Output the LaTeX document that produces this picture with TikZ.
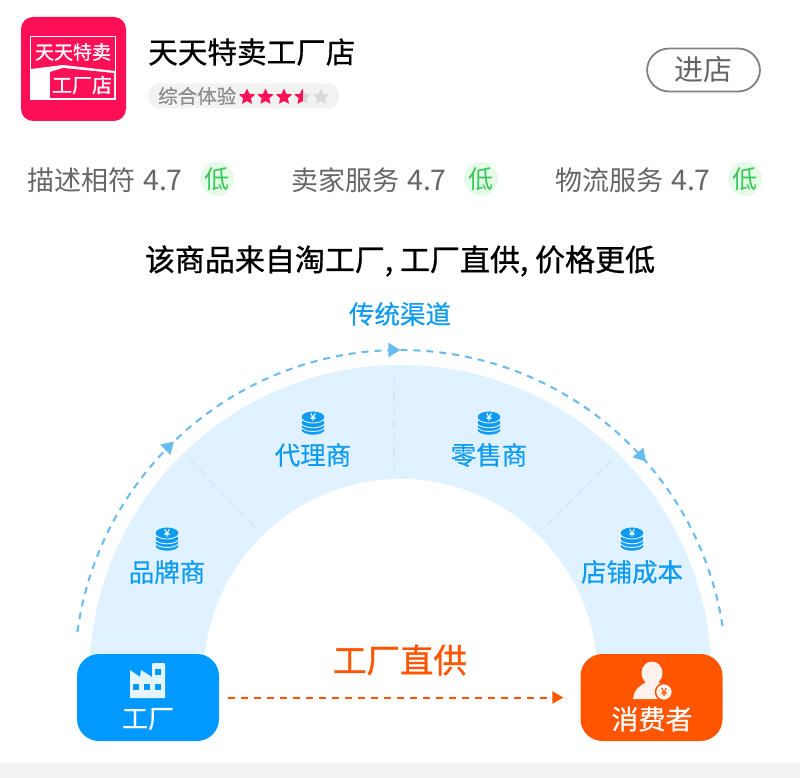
\documentclass[tikz,border=0pt]{standalone}
\usepackage{fontspec}
\setmainfont{Noto Sans CJK SC}
\newfontfamily\medfont{Noto Sans CJK SC}[FakeBold=0.9]
\newfontfamily\semifont{Noto Sans CJK SC}[FakeBold=0.5]
\usepackage{xcolor}
\usetikzlibrary{arrows.meta, positioning, shapes.geometric, decorations.markings, calc}
\definecolor{shopred}{HTML}{FF0F55}
\definecolor{chanblue}{HTML}{0F9BF0}
\definecolor{factblue}{HTML}{0099FF}
\definecolor{archblue}{HTML}{E0F2FF}
\definecolor{arcblue}{HTML}{66BBF0}
\definecolor{dividerblue}{HTML}{CFE9FA}
\definecolor{buyorange}{HTML}{FF5500}
\definecolor{lowgreen}{HTML}{36C95A}
\definecolor{lowfill}{HTML}{E6FAE8}
\newcommand{\scoretext}[1]{#1\hspace{8pt}{\fontsize{28.5}{28.5}\selectfont 4.7}}
\tikzset{
  txt/.style={inner sep=0pt, font=\fontsize{#1}{#1}\selectfont},
  medtxt/.style={inner sep=0pt, font=\fontsize{#1}{#1}\selectfont\medfont},
  semitxt/.style={inner sep=0pt, font=\fontsize{#1}{#1}\selectfont\semifont},
  chan/.style={semitxt=25.5, text=chanblue},
  rate/.style={txt=27, text=black!60, anchor=west},
  lowdot/.style={circle, fill=lowfill, minimum size=34pt, inner sep=0pt,
                 text=lowgreen, font=\fontsize{25}{25}\selectfont},
  endbox/.style={rectangle, rounded corners=22pt, fill=#1,
                 minimum width=142pt, minimum height=87pt, inner sep=0pt},
  endlbl/.style={semitxt=#1, text=white},
  ratestar/.style={star, star points=5, star point ratio=2.1, draw=none,
                   minimum size=17pt, inner sep=0pt, fill=#1},
  flow/.style={line width=2pt, buyorange, dash pattern=on 7pt off 6pt,
               -{Triangle[length=11pt,width=12pt]}},
  coinstack/.pic={
    \foreach \yy in {7,3.3,-0.4}
      \draw[fill=chanblue, draw=archblue, line width=0.9pt]
        (0,\yy) ellipse [x radius=12, y radius=5.2];
    \draw[fill=chanblue, draw=archblue, line width=0.9pt]
      (0,-6) ellipse [x radius=12, y radius=6];
    \node[medtxt=10, text=white] (yuan) at (0,-6) {¥};
  },
}
\begin{document}
\begin{tikzpicture}[x=1pt, y=-1pt]
  \useasboundingbox (0,0) rectangle (800,778);
  \fill[black!5] (0,763) rectangle (800,778);
  %% Shop logo
  \node[rectangle, rounded corners=12pt, fill=shopred, minimum width=105pt,
        minimum height=104pt, inner sep=0pt] (logo) at (73.5,69) {};
  \draw[white, line width=1pt] (30.5,37) rectangle (115.5,100);
  \fill[white] (31,69) -- (63,65) -- (115,71) -- (115,100) -- (31,100) -- cycle;
  \fill[shopred] (50,72) -- (63,68) -- (114,73) -- (114,98) -- (50,98) -- cycle;
  \node[medtxt=19, text=white] (logotop) at (73,52) {天天特卖};
  \node[medtxt=20, text=white] (logobot) at (82,85) {工厂店};
  %% Shop name and rating
  \node[semitxt=29.6, anchor=west] (shop) at (148,52) {天天特卖工厂店};
  \node[rectangle, rounded corners=12pt, fill=black!5, minimum width=191pt,
        minimum height=25pt, inner sep=0pt] (pill) at (243.5,96) {};
  \node[semitxt=19.5, text=black!45, anchor=west] (overall) at (158,96) {综合体验};
  \node[ratestar=shopred] (s1) at (247,97) {};
  \node[ratestar=shopred] (s2) at (265.5,97) {};
  \node[ratestar=shopred] (s3) at (284,97) {};
  \node[ratestar=black!15, path picture={\fill[shopred]
        (path picture bounding box.north west) rectangle (path picture bounding box.south);}]
        (s4) at (302.5,97) {};
  \node[ratestar=black!15] (s5) at (321,97) {};
  \node[rectangle, rounded corners=22pt, draw=black!50, line width=1.8pt, fill=white,
        minimum width=113pt, minimum height=43pt, inner sep=0pt, txt=29, text=black!60]
        (enter) at (703.5,70) {进店};
  %% Score row
  \node[rate] (desc) at (27,180) {\scoretext{描述相符}};
  \node[lowdot] (low1) at (217,179) {低};
  \node[rate] (serv) at (291,180) {\scoretext{卖家服务}};
  \node[lowdot] (low2) at (481,179) {低};
  \node[rate] (ship) at (555,180) {\scoretext{物流服务}};
  \node[lowdot] (low3) at (745,179) {低};
  %% Heading
  \node[medtxt=30] (title) at (400,261) {该商品来自淘工厂, 工厂直供, 价格更低};
  \node[chan] (trad) at (400,314) {传统渠道};
  %% Arch
  \fill[archblue] (90.2,655) arc[start angle=183.87, end angle=356.13, radius=311]
    -- (596.4,655) arc[start angle=353.9, end angle=186.1, radius=197] -- cycle;
  \draw[dividerblue, line width=1.6pt, dash pattern=on 8pt off 6pt] (190,460) -- (255,527);
  \draw[dividerblue, line width=1.6pt, dash pattern=on 8pt off 6pt] (394,378) -- (394,470);
  \draw[dividerblue, line width=1.6pt, dash pattern=on 8pt off 6pt] (612,460) -- (545,527);
  %% Traditional channel arc
  \coordinate (arcfrom) at (77.4,632);
  \draw[arcblue, line width=2pt, dash pattern=on 7pt off 6pt,
    postaction={decorate, decoration={markings,
      mark=at position 0.2325 with {\arrow[solid]{Triangle[length=12pt,width=14pt]}},
      mark=at position 0.50 with {\arrow[solid]{Triangle[length=12pt,width=14pt]}},
      mark=at position 0.797 with {\arrow[solid]{Triangle[length=12pt,width=14pt]}}}}]
    (arcfrom) arc[start angle=187.76, end angle=352.24, radius=326];
  %% Channel stops
  \pic (coina) at (313,423) {coinstack};
  \pic (coinb) at (489,423) {coinstack};
  \pic (coinc) at (167,539) {coinstack};
  \pic (coind) at (632,539) {coinstack};
  \node[chan] (agent) at (313,455) {代理商};
  \node[chan] (retail) at (489,455) {零售商};
  \node[chan] (brand) at (167,572) {品牌商};
  \node[chan] (store) at (632,572) {店铺成本};
  %% End points
  \node[endbox=factblue] (factory) at (148,697.5) {};
  \node[endbox=buyorange] (buyer) at (651.5,697.5) {};
  \node[endlbl=26] (factorylbl) at (148,719) {工厂};
  \node[endlbl=27] (buyerlbl) at (652,719) {消费者};
  \node[medtxt=33.5, text=buyorange] (direct) at (400,660) {工厂直供};
  \draw[flow, shorten <=9pt, shorten >=17pt] (factory) -- (buyer);
  %% Factory icon
  \fill[white!90!factblue] (130,670) -- (140,677) -- (141,670) -- (152,677) -- (152,664)
    -- (153,663) -- (164,663) -- (165,664) -- (165,698) -- (130,698) -- cycle;
  \foreach \a/\b in {136/687,147/687,158/687,158/672}
    \fill[factblue] (\a-2.7,\b-2.7) rectangle (\a+2.7,\b+2.7);
  %% Buyer icon
  \fill[white!92!buyorange] (652,673) ellipse [x radius=10.5, y radius=11.5];
  \fill[white!92!buyorange] (633,699) .. controls (634,689) and (640,686) .. (646,682) -- (658,682)
    .. controls (664,686) and (668,690) .. (669,699) -- cycle;
  \node[circle, fill=white!92!buyorange, draw=buyorange, line width=1.5pt, minimum size=17pt,
        inner sep=0pt, medtxt=11, text=buyorange] (yen) at (664,692) {¥};
\end{tikzpicture}
\end{document}
